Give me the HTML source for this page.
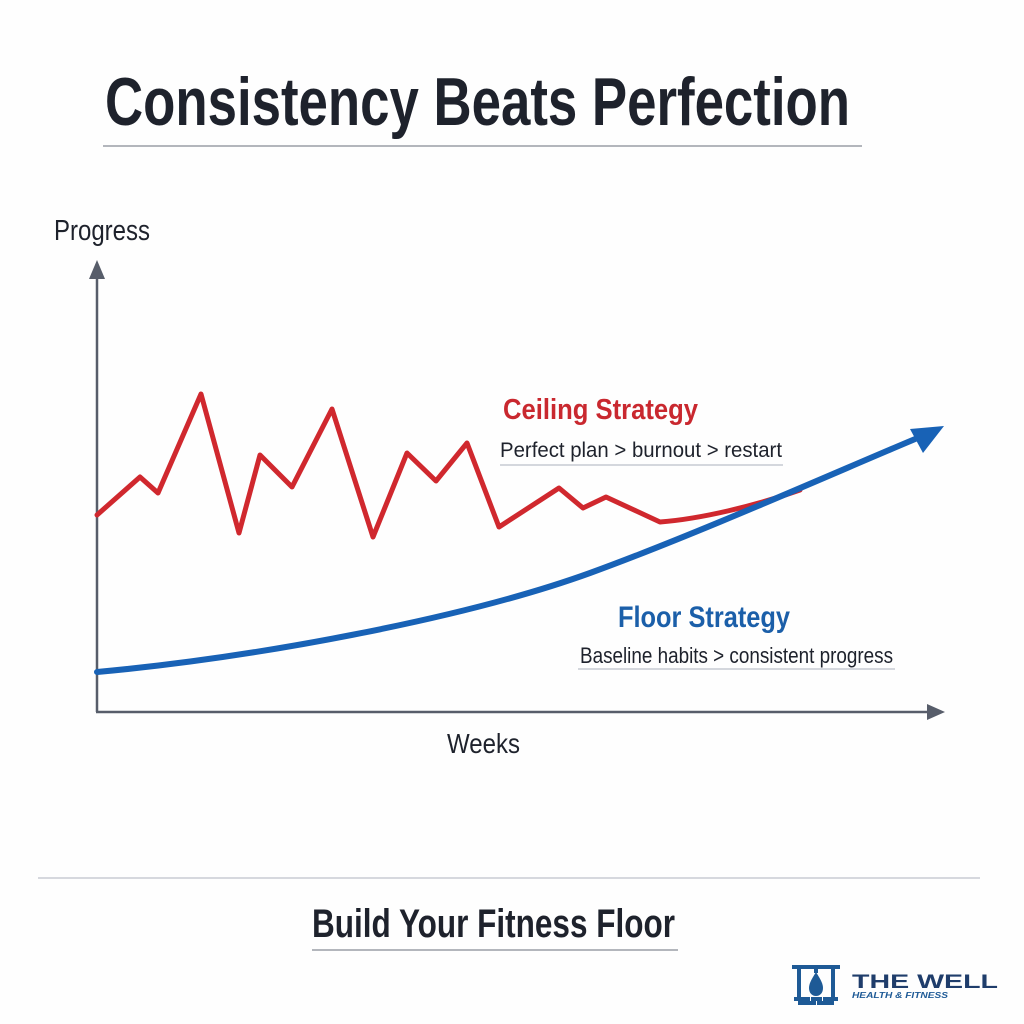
<!DOCTYPE html>
<html>
<head>
<meta charset="utf-8">
<style>
  html, body { margin:0; padding:0; background:#ffffff; }
  svg { display:block; }
  text { font-family: "Liberation Sans", "DejaVu Sans", sans-serif; }
</style>
</head>
<body>
<svg width="1024" height="1024" viewBox="0 0 1024 1024" xmlns="http://www.w3.org/2000/svg">
  <rect x="0" y="0" width="1024" height="1024" fill="#fefefe"/>

  <!-- Title -->
  <text x="105" y="125" font-size="68" font-weight="700" fill="#1e222c" textLength="745" lengthAdjust="spacingAndGlyphs">Consistency Beats Perfection</text>
  <line x1="103" y1="146" x2="862" y2="146" stroke="#9a9ea6" stroke-width="1.5"/>

  <!-- Y label -->
  <text x="54" y="240" font-size="29" fill="#1e222c" textLength="96" lengthAdjust="spacingAndGlyphs">Progress</text>

  <!-- Axes -->
  <line x1="97" y1="712" x2="97" y2="274" stroke="#575d6a" stroke-width="2.5"/>
  <polygon points="97,260 89,279 105,279" fill="#575d6a"/>
  <line x1="96" y1="712" x2="930" y2="712" stroke="#575d6a" stroke-width="2.5"/>
  <polygon points="945,712 927,704 927,720" fill="#575d6a"/>

  <!-- X label -->
  <text x="447" y="753" font-size="28" fill="#1e222c" textLength="73" lengthAdjust="spacingAndGlyphs">Weeks</text>

  <!-- Red ceiling line -->
  <path d="M97,515 L140,477 L158,493 L201,394 L239,533 L260,455 L292,487 L332,409 L373,537 L407,453 L436,481 L467,443 L499,527 L559,488 L583,508 L606,497 L660,522 C700,519 755,506 800,490"
        fill="none" stroke="#d0282e" stroke-width="5" stroke-linejoin="round" stroke-linecap="round"/>

  <!-- Blue floor line -->
  <path d="M97,672 C250,658 460,620 590,573 C700,533 850,466 920,437"
        fill="none" stroke="#1862b6" stroke-width="6" stroke-linejoin="round" stroke-linecap="round"/>
  <polygon points="944,426 910,429 923,453" fill="#1862b6"/>

  <!-- Ceiling labels -->
  <text x="503" y="419" font-size="29" font-weight="700" fill="#c9282f" textLength="195" lengthAdjust="spacingAndGlyphs">Ceiling Strategy</text>
  <text x="500" y="457" font-size="21" fill="#1e222c" textLength="282" lengthAdjust="spacingAndGlyphs">Perfect plan &gt; burnout &gt; restart</text>
  <line x1="500" y1="465" x2="783" y2="465" stroke="#c6cad2" stroke-width="1.5"/>

  <!-- Floor labels -->
  <text x="618" y="627" font-size="30" font-weight="700" fill="#1b5fa9" textLength="172" lengthAdjust="spacingAndGlyphs">Floor Strategy</text>
  <text x="580" y="663" font-size="22" fill="#1e222c" textLength="313" lengthAdjust="spacingAndGlyphs">Baseline habits &gt; consistent progress</text>
  <line x1="578" y1="669" x2="895" y2="669" stroke="#c6cad2" stroke-width="1.5"/>

  <!-- Bottom divider -->
  <line x1="38" y1="878" x2="980" y2="878" stroke="#c9ccd3" stroke-width="1.5"/>
  <text x="312" y="937" font-size="40" font-weight="700" fill="#1e222c" textLength="363" lengthAdjust="spacingAndGlyphs">Build Your Fitness Floor</text>
  <line x1="312" y1="950" x2="678" y2="950" stroke="#9a9ea6" stroke-width="1.5"/>

  <!-- Logo icon -->
  <g fill="#1e5a96">
    <rect x="792" y="965" width="48" height="4"/>
    <rect x="797" y="968" width="4" height="30"/>
    <rect x="831" y="968" width="4" height="30"/>
    <rect x="814" y="968" width="4" height="5"/>
    <path d="M816,972 C811,980 809,984 809,988 C809,993 812,996 816,996 C820,996 823,993 823,988 C823,984 821,980 816,972 Z"/>
    <rect x="794" y="997" width="44" height="4"/>
    <rect x="798" y="1001" width="36" height="4"/>
  </g>
  <g fill="#ffffff">
    <rect x="810" y="997" width="1" height="4"/>
    <rect x="822" y="997" width="1" height="4"/>
    <rect x="816" y="1001" width="1" height="4"/>
  </g>
  <!-- Logo text -->
  <text x="852" y="988" font-size="19" font-weight="700" fill="#1f3d6b" textLength="146" lengthAdjust="spacingAndGlyphs">THE WELL</text>
  <text x="852" y="998" font-size="8" font-weight="700" font-style="italic" fill="#1e5a96" textLength="96" lengthAdjust="spacingAndGlyphs">HEALTH &amp; FITNESS</text>
</svg>
</body>
</html>
